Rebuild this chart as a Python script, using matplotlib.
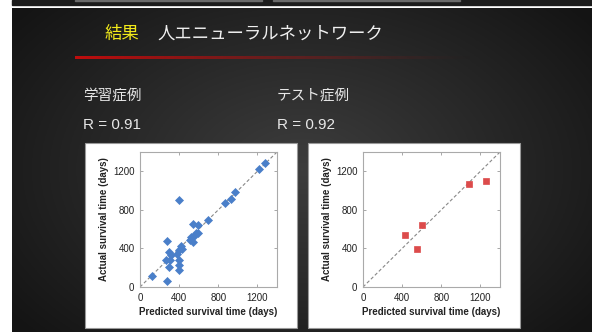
import numpy as np
import matplotlib
matplotlib.use('Agg')
import matplotlib.pyplot as plt
from matplotlib.patches import Rectangle

plt.rcParams['font.family'] = ['Liberation Sans', 'Noto Sans CJK JP', 'DejaVu Sans']

# training cases (predicted, actual) in days
train_pred = [120, 280, 280, 300, 320, 305, 300, 270, 400, 400, 400, 400, 380, 400, 415, 428,
              510, 517, 537, 544, 551, 571, 595, 595, 690, 867, 935, 969, 1217, 1282]
train_act = [110, 60, 477, 358, 334, 275, 212, 282, 900, 282, 230, 177, 344, 386, 421, 393,
             490, 518, 657, 463, 532, 560, 640, 560, 699, 873, 915, 988, 1228, 1291]
# test cases
test_pred = [425, 552, 600, 1085, 1262]
test_act = [540, 398, 643, 1065, 1099]

ticks = [0, 400, 800, 1200]
W, H = 592, 332

fig = plt.figure(figsize=(W / 100, H / 100), dpi=100)
fig.patch.set_facecolor('white')

def fx(x):
    return x / W

def fy(y):
    return 1 - y / H

# slide background with a soft radial gradient
bg = fig.add_axes([fx(12), 0, 1 - fx(12), fy(7.5)])
bg.set_zorder(-10)
gx, gy = np.meshgrid(np.linspace(-1, 1, 300), np.linspace(-1, 1, 200))
r = np.sqrt((gx * 0.95) ** 2 + (gy * 0.8) ** 2)
shade = 0.24 - 0.16 * np.clip(r, 0, 1.2) / 1.2
bg.imshow(np.dstack([shade] * 3), aspect='auto', extent=[0, 1, 0, 1])
bg.set_axis_off()

def rect(x0, y0, x1, y1, **kw):
    # pixel box (top-left origin) -> figure rectangle
    p = Rectangle((fx(x0), fy(y1)), fx(x1) - fx(x0), fy(y0) - fy(y1),
                  transform=fig.transFigure, **kw)
    fig.add_artist(p)
    return p

# strip of the previous slide at the top
rect(12, 0, W, 5, color='#1c1c1c', zorder=-5)
rect(75, 0, 262, 1.2, color='#6a6a6a', zorder=-4)
rect(273, 0, 460, 1.2, color='#6a6a6a', zorder=-4)

# title
fig.text(fx(105), fy(34), '結果', color='#f2ea1a', fontsize=12.5,
         family=['Noto Sans CJK JP'], va='center', ha='left')
fig.text(fx(157), fy(34), '人エニューラルネットワーク', color='#f0f0f0', fontsize=12.5,
         family=['Noto Sans CJK JP'], va='center', ha='left')

# red line fading to the right
n = 120
xs = np.linspace(75, 470, n + 1)
for i in range(n):
    a = 1 - i / n
    rect(xs[i], 56, xs[i + 1], 58.5, color=(0.75, 0.05, 0.05), alpha=a ** 1.3, lw=0, zorder=-4)

# subtitles
for x0, name, rv in [(83, '学習症例', 'R = 0.91'), (277, 'テスト症例', 'R = 0.92')]:
    fig.text(fx(x0), fy(96), name, color='#e8e8e8', fontsize=10.5,
             family=['Noto Sans CJK JP'], va='center', ha='left')
    fig.text(fx(x0), fy(125), rv, color='#e8e8e8', fontsize=11, va='center', ha='left')

# white panels
for x0, x1 in [(85, 297), (308, 520)]:
    rect(x0, 143, x1, 328, facecolor='white', edgecolor='#999999', lw=0.8, zorder=-3)

def panel(left, px, py, marker, color, ms):
    ax = fig.add_axes([fx(left), fy(287), fx(137), fy(152) - fy(287)])
    ax.set_zorder(5)
    ax.set_facecolor('white')
    ax.plot([0, 1400], [0, 1400], ls=(0, (3, 2)), color='#888888', lw=0.8)
    ax.plot(px, py, ls='none', marker=marker, color=color, ms=ms,
            mec=color, mew=0.5)
    ax.set_xlim(0, 1400)
    ax.set_ylim(0, 1400)
    ax.set_xticks(ticks)
    ax.set_yticks(ticks)
    ax.tick_params(direction='in', length=2.5, width=0.6, color='#999999',
                   labelsize=7, labelcolor='#222222', pad=4,
                   top=True, right=True)
    for s in ax.spines.values():
        s.set_color('#aaaaaa')
        s.set_linewidth(0.8)
    ax.set_xlabel('Predicted survival time (days)', fontsize=7, fontweight='bold',
                  color='#222222', labelpad=3)
    ax.set_ylabel('Actual survival time (days)', fontsize=7, fontweight='bold',
                  color='#222222', labelpad=3)
    return ax

panel(140, train_pred, train_act, 'D', '#4a7fc9', 4.0)
panel(363, test_pred, test_act, 's', '#dc4b4b', 4.8)

fig.savefig('out.png', dpi=100)
